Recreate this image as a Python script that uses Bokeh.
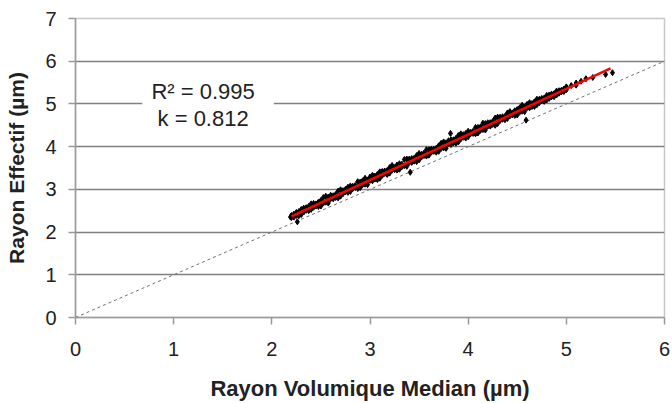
from bokeh.plotting import figure
from bokeh.embed import file_html
from bokeh.resources import INLINE
from bokeh.models import Range1d, FixedTicker, BoxAnnotation, Label

# --- data ---
xa = [2.20, 2.25, 2.30, 2.35, 2.40, 2.45, 2.50, 2.55, 2.60, 2.65, 2.70, 2.75, 2.80, 2.85, 2.90, 2.95,
      3.00, 3.05, 3.10, 3.15, 3.20, 3.25, 3.30, 3.35, 3.40, 3.45, 3.50, 3.55, 3.60, 3.65, 3.70, 3.75,
      3.80, 3.85, 3.90, 3.95, 4.00, 4.05, 4.10, 4.15, 4.20, 4.25, 4.30, 4.35, 4.40, 4.45, 4.50, 4.55,
      4.60, 4.65, 4.70, 4.75, 4.80, 4.85, 4.90, 4.95, 5.00, 5.05, 5.10, 5.15, 5.20]
ya = [2.39, 2.46, 2.53, 2.57, 2.66, 2.66, 2.74, 2.84, 2.86, 2.88, 2.99, 3.00, 3.08, 3.09, 3.17, 3.26,
      3.29, 3.31, 3.41, 3.43, 3.51, 3.51, 3.60, 3.70, 3.71, 3.73, 3.84, 3.85, 3.93, 3.94, 4.02, 4.11,
      4.14, 4.16, 4.26, 4.28, 4.36, 4.36, 4.45, 4.55, 4.56, 4.59, 4.69, 4.70, 4.79, 4.79, 4.87, 4.97,
      4.99, 5.01, 5.11, 5.13, 5.20, 5.23, 5.30, 5.32, 5.40, 5.43, 5.49, 5.53, 5.59]
xc = [2.20, 2.25, 2.30, 2.35, 2.40, 2.45, 2.50, 2.55, 2.60, 2.65, 2.70, 2.75, 2.80, 2.85, 2.90, 2.95,
      3.00, 3.05, 3.10, 3.15, 3.20, 3.25, 3.30, 3.35, 3.40, 3.45, 3.50, 3.55, 3.60, 3.65, 3.70, 3.75,
      3.80, 3.85, 3.90, 3.95, 4.00, 4.05, 4.10, 4.15, 4.20, 4.25, 4.30, 4.35, 4.40, 4.45, 4.50, 4.55,
      4.60, 4.65, 4.70, 4.75, 4.80, 4.85, 4.90, 4.95, 5.00]
yc = [2.34, 2.39, 2.41, 2.51, 2.53, 2.61, 2.61, 2.70, 2.78, 2.81, 2.84, 2.94, 2.95, 3.04, 3.04, 3.12,
      3.21, 3.24, 3.26, 3.37, 3.38, 3.46, 3.47, 3.55, 3.63, 3.66, 3.69, 3.79, 3.80, 3.89, 3.89, 3.97,
      4.06, 4.09, 4.11, 4.22, 4.23, 4.31, 4.32, 4.40, 4.48, 4.52, 4.54, 4.64, 4.66, 4.74, 4.74, 4.83,
      4.91, 4.94, 4.98, 5.07, 5.09, 5.17, 5.21, 5.28, 5.33]
xb = [2.225, 2.275, 2.325, 2.375, 2.425, 2.475, 2.525, 2.575, 2.625, 2.675, 2.725, 2.775, 2.825, 2.875,
      2.925, 2.975, 3.025, 3.075, 3.125, 3.175, 3.225, 3.275, 3.325, 3.375, 3.425, 3.475, 3.525, 3.575,
      3.625, 3.675, 3.725, 3.775, 3.825, 3.875, 3.925, 3.975, 4.025, 4.075, 4.125, 4.175, 4.225, 4.275,
      4.325, 4.375, 4.425, 4.475, 4.525, 4.575, 4.625, 4.675, 4.725, 4.775, 4.825, 4.875, 4.925, 4.975]
yb = [2.35, 2.38, 2.47, 2.50, 2.58, 2.60, 2.68, 2.68, 2.78, 2.80, 2.90, 2.93, 3.02, 3.02,
      3.11, 3.11, 3.20, 3.23, 3.33, 3.35, 3.45, 3.45, 3.53, 3.54, 3.63, 3.65, 3.76, 3.78,
      3.87, 3.87, 3.96, 3.96, 4.05, 4.08, 4.18, 4.20, 4.30, 4.30, 4.38, 4.39, 4.48, 4.50,
      4.61, 4.63, 4.72, 4.73, 4.81, 4.82, 4.91, 4.94, 5.03, 5.06, 5.13, 5.17, 5.25, 5.29]
yd = [2.42, 2.48, 2.56, 2.60, 2.67, 2.70, 2.81, 2.82, 2.85, 2.96, 2.97, 3.05, 3.07, 3.18,
      3.20, 3.22, 3.33, 3.35, 3.42, 3.44, 3.56, 3.57, 3.59, 3.71, 3.72, 3.79, 3.82, 3.93,
      3.94, 3.96, 4.08, 4.09, 4.16, 4.19, 4.30, 4.31, 4.34, 4.45, 4.46, 4.54, 4.56, 4.67,
      4.69, 4.71, 4.82, 4.84, 4.91, 4.93, 5.03, 5.05, 5.11, 5.14, 5.21, 5.24, 5.31, 5.35]
xo = [2.19, 2.26, 3.41, 3.82, 4.59, 5.10, 5.27, 5.40, 5.47]
yo = [2.35, 2.24, 3.40, 4.31, 4.62, 5.44, 5.62, 5.69, 5.73]

fit_x = [2.20, 5.45]
fit_y = [2.37, 5.83]
ref_x = [0, 6]
ref_y = [0, 6]

x_ticks = [0, 1, 2, 3, 4, 5, 6]
y_ticks = [0, 1, 2, 3, 4, 5, 6, 7]
stat_lines = ["R\u00b2 = 0.995", "k = 0.812"]

FONT = "Liberation Sans"

p = figure(width=672, height=403, output_backend="svg", toolbar_location=None,
           x_range=Range1d(0, 6), y_range=Range1d(0, 7),
           min_border_left=75, min_border_right=8, min_border_top=18, min_border_bottom=80)
p.outline_line_color = "#c8c8c8"
p.outline_line_width = 1.5

p.xgrid.grid_line_color = None
p.ygrid.ticker = FixedTicker(ticks=[1, 2, 3, 4, 5, 6])
p.ygrid.grid_line_color = "#808080"
p.ygrid.grid_line_width = 1.5

for ax in (p.xaxis[0], p.yaxis[0]):
    ax.axis_line_color = "#9a9a9a"
    ax.axis_line_width = 1.5
    ax.major_tick_line_color = "#9a9a9a"
    ax.major_tick_line_width = 1.5
    ax.major_tick_out = 7
    ax.major_tick_in = 0
    ax.minor_tick_line_color = None
    ax.major_label_text_font = FONT
    ax.major_label_text_font_size = "20px"
    ax.major_label_text_color = "#222222"
    ax.axis_label_text_font = FONT
    ax.axis_label_text_font_style = "bold"
    ax.axis_label_text_color = "#222222"

p.xaxis.axis_label_text_font_size = "22px"
p.yaxis.axis_label_text_font_size = "21px"
p.xaxis.ticker = FixedTicker(ticks=x_ticks)
p.yaxis.ticker = FixedTicker(ticks=y_ticks)
p.xaxis.major_label_standoff = 17
p.yaxis.major_label_standoff = 12
p.xaxis.axis_label_standoff = 17
p.yaxis.axis_label_standoff = 14
p.xaxis.axis_label = "Rayon Volumique Median (\u00b5m)"
p.yaxis.axis_label = "Rayon Effectif (\u00b5m)"

# statistics box
p.add_layout(BoxAnnotation(left=0.68, right=2.02, bottom=4.45, top=5.6,
                           fill_color="white", fill_alpha=1.0, line_color=None))
p.add_layout(Label(x=1.30, y=5.30, text=stat_lines[0], text_align="center", text_baseline="middle",
                   text_font=FONT, text_font_size="22px", text_color="#222222"))
p.add_layout(Label(x=1.30, y=4.65, text=stat_lines[1], text_align="center", text_baseline="middle",
                   text_font=FONT, text_font_size="22px", text_color="#222222"))

# 1:1 reference line
p.line(ref_x, ref_y, line_color="#707070", line_width=1, line_dash="3 3")

# scatter
for xs, ys in ((xa, ya), (xc, yc), (xb, yb), (xb, yd), (xo, yo)):
    p.scatter(xs, ys, marker="diamond", size=6, fill_color="black", line_color="black")

# regression line
p.line(fit_x, fit_y, line_color="#ff0000", line_width=2.5)

open("out.html", "w").write(file_html(p, INLINE))
